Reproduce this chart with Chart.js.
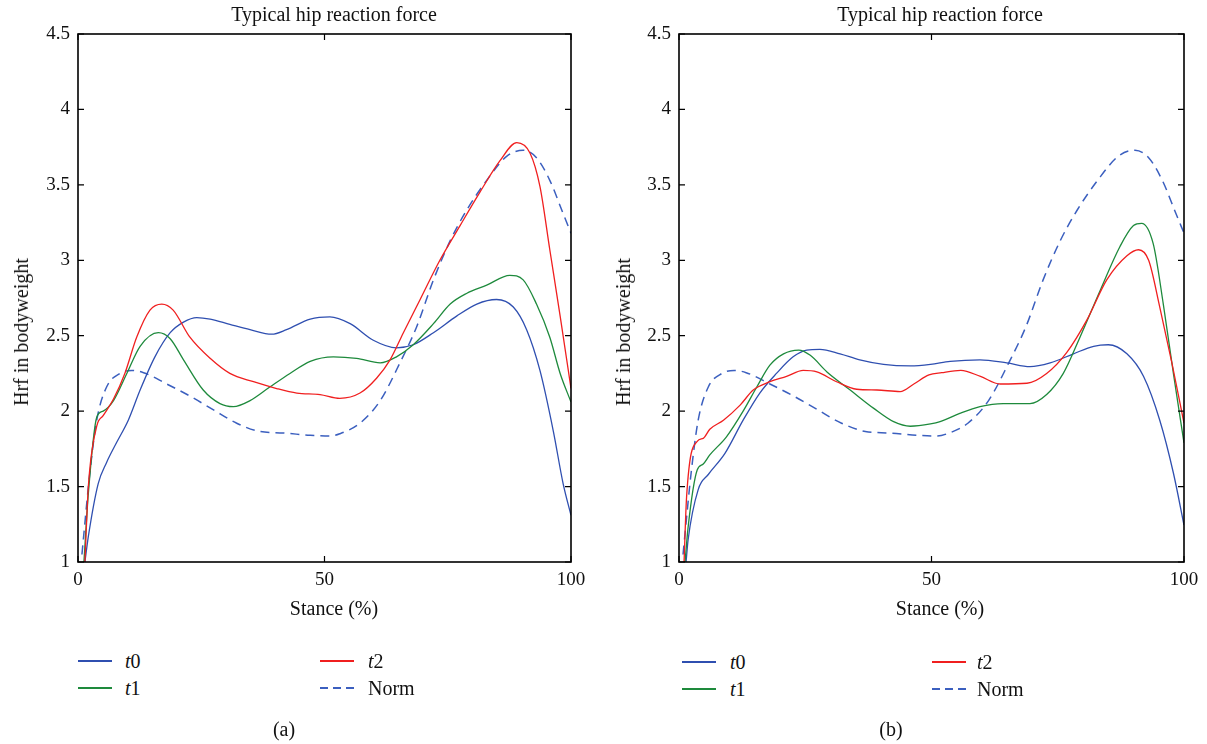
<!DOCTYPE html>
<html>
<head>
<meta charset="utf-8">
<script src="https://cdn.jsdelivr.net/npm/chart.js@4"></script>
<style>
  html, body { margin: 0; padding: 0; background: #fff; }
  #wrap { position: relative; width: 1207px; height: 744px; overflow: hidden; font-family: "Liberation Serif", "DejaVu Serif", serif; color: #111; }
  canvas { position: absolute; top: 0; }
  .txt { position: absolute; font-size: 20px; white-space: nowrap; line-height: 1; }
  .ctr { transform: translateX(-50%); }
  .ylab { transform: translate(-50%, -50%) rotate(-90deg); }
  .sw { position: absolute; width: 34px; height: 1.5px; }
  .dash { background: repeating-linear-gradient(90deg, #3b5fbf 0 8px, transparent 8px 13px); }
</style>
</head>
<body>
<div id="wrap">
  <canvas id="ca" width="600" height="640" style="left:0px;width:600px;height:640px"></canvas>
  <canvas id="cb" width="607" height="640" style="left:600px;width:607px;height:640px"></canvas>

  <div class="txt ctr" style="left:334px;top:4px">Typical hip reaction force</div>
  <div class="txt ctr" style="left:940px;top:4px">Typical hip reaction force</div>
  <div class="txt ctr" style="left:334px;top:598px">Stance (%)</div>
  <div class="txt ctr" style="left:940px;top:598px">Stance (%)</div>
  <div class="txt ylab" style="left:21px;top:332px">Hrf in bodyweight</div>
  <div class="txt ylab" style="left:623px;top:332px">Hrf in bodyweight</div>

  <!-- legend a -->
  <div class="sw" style="left:78px;top:660px;background:#2f4fb0"></div>
  <div class="txt" style="left:125px;top:651px"><i>t</i>0</div>
  <div class="sw" style="left:78px;top:687px;background:#1e8a3c"></div>
  <div class="txt" style="left:125px;top:678px"><i>t</i>1</div>
  <div class="sw" style="left:320px;top:660px;background:#f01f1f"></div>
  <div class="txt" style="left:368px;top:651px"><i>t</i>2</div>
  <div class="sw dash" style="left:320px;top:687px"></div>
  <div class="txt" style="left:368px;top:678px">Norm</div>
  <div class="txt ctr" style="left:284px;top:719px">(a)</div>

  <!-- legend b -->
  <div class="sw" style="left:682px;top:661px;background:#2f4fb0"></div>
  <div class="txt" style="left:730px;top:652px"><i>t</i>0</div>
  <div class="sw" style="left:682px;top:688px;background:#1e8a3c"></div>
  <div class="txt" style="left:730px;top:679px"><i>t</i>1</div>
  <div class="sw" style="left:932px;top:661px;background:#f01f1f"></div>
  <div class="txt" style="left:977px;top:652px"><i>t</i>2</div>
  <div class="sw dash" style="left:932px;top:688px"></div>
  <div class="txt" style="left:977px;top:679px">Norm</div>
  <div class="txt ctr" style="left:891px;top:719px">(b)</div>
</div>
<script>
// ---- data (stance %, hip reaction force in bodyweight) ----
const xTicks = [0, 50, 100];
const yTicks = [1, 1.5, 2, 2.5, 3, 3.5, 4, 4.5];
const seriesNames = ['t0', 't1', 't2', 'Norm'];

const normCurve = [[0.8,1.05],[1.2,1.19],[2.4,1.59],[3.8,1.94],[5.8,2.16],[8.5,2.25],[10.9,2.27],[13.3,2.255],[18,2.18],[22.7,2.1],[27.4,2.01],[32.2,1.92],[36.9,1.865],[41.6,1.855],[47.1,1.84],[51.1,1.835],[53.1,1.85],[57.2,1.92],[61.3,2.07],[65.3,2.32],[68.7,2.56],[72.1,2.87],[75.5,3.13],[78.8,3.33],[82.9,3.53],[87,3.69],[90.3,3.73],[93,3.68],[95.7,3.53],[98.4,3.31],[100,3.18]];

const aT0 = [[1.4,1.0],[2.1,1.17],[4.1,1.52],[5.8,1.66],[7.8,1.79],[10.2,1.94],[12.6,2.14],[15.6,2.36],[18.7,2.52],[21.4,2.59],[24.1,2.62],[26.8,2.61],[30.8,2.575],[34.9,2.54],[39.3,2.51],[42.3,2.54],[47.1,2.61],[51.1,2.625],[55.2,2.58],[59.9,2.47],[64.6,2.42],[68,2.44],[72.1,2.52],[76.8,2.63],[80.9,2.71],[84.9,2.74],[88.3,2.69],[91,2.54],[93.7,2.27],[96.4,1.87],[98.4,1.52],[100,1.31]];
const aT1 = [[1.2,1.0],[2.1,1.455],[3.8,1.96],[5.1,2.0],[7.2,2.07],[9.9,2.25],[12.6,2.43],[16.3,2.52],[18.7,2.48],[21.4,2.34],[25.4,2.14],[28.8,2.05],[31.5,2.03],[34.9,2.07],[38.9,2.16],[43,2.25],[47.1,2.33],[51.8,2.36],[56.5,2.35],[61.3,2.32],[64.6,2.36],[68,2.44],[72.1,2.58],[75.5,2.71],[78.8,2.78],[82.9,2.835],[87.6,2.9],[90.3,2.87],[93,2.71],[95.7,2.49],[97.8,2.25],[100,2.06]];
const aT2 = [[1.4,1.0],[2.1,1.5],[3.8,1.9],[5.1,1.97],[7.2,2.08],[9.5,2.25],[11.9,2.49],[14.6,2.67],[17,2.71],[19.3,2.67],[22.7,2.49],[26.8,2.35],[30.8,2.25],[35.6,2.195],[40.3,2.15],[44.4,2.12],[49.1,2.11],[53.1,2.085],[57.2,2.12],[60.6,2.22],[63.3,2.34],[66,2.52],[69.4,2.74],[73.4,3.0],[77.5,3.23],[81.5,3.45],[85.6,3.66],[89,3.78],[91.7,3.71],[93.7,3.49],[95.7,3.07],[97.8,2.63],[100,2.15]];

const bT0 = [[1.4,1.0],[1.8,1.146],[3.8,1.48],[5.8,1.58],[9.1,1.72],[12.7,1.94],[16,2.12],[19.3,2.25],[22.6,2.36],[25.3,2.405],[27.9,2.41],[31.9,2.38],[35.8,2.34],[40.5,2.31],[45.8,2.30],[49.8,2.31],[53.7,2.33],[59.6,2.34],[64.9,2.32],[69.5,2.295],[73.5,2.32],[78.1,2.38],[82.1,2.43],[85,2.44],[88.7,2.38],[92,2.23],[95.2,1.94],[97.9,1.59],[100,1.245]];
const bT1 = [[1.2,1.0],[1.8,1.23],[3.6,1.61],[4.8,1.65],[6.1,1.71],[9.4,1.83],[12.7,2.0],[15.4,2.16],[18,2.305],[20.7,2.38],[23.7,2.405],[26,2.37],[29.3,2.26],[33.9,2.14],[38.5,2.02],[42.5,1.93],[45.8,1.90],[49.8,1.915],[51.7,1.93],[55.6,1.985],[59.6,2.03],[64.2,2.05],[69.5,2.05],[72.8,2.11],[76.1,2.25],[79.4,2.49],[83.4,2.80],[87.3,3.09],[90,3.23],[91.6,3.245],[93.9,3.11],[95.9,2.71],[97.9,2.25],[100,1.79]];
const bT2 = [[1,1.0],[1.5,1.43],[3.6,1.80],[4.8,1.82],[6.1,1.88],[8.8,1.94],[12.1,2.04],[14.7,2.14],[18,2.195],[21.3,2.23],[24.6,2.27],[27.3,2.26],[31.2,2.195],[35.2,2.145],[39.2,2.14],[43.8,2.13],[46.5,2.18],[49.5,2.24],[52,2.255],[55.8,2.27],[59.7,2.23],[63.6,2.18],[68.9,2.185],[72.8,2.25],[76.8,2.39],[80.7,2.60],[84.7,2.87],[88.7,3.03],[91,3.07],[93,3.0],[95.2,2.69],[97.6,2.32],[100,1.92]];

const colors = { t0: '#2f4fb0', t1: '#1e8a3c', t2: '#f01f1f', Norm: '#3b5fbf' };
const FONT = '"Liberation Serif", "DejaVu Serif", serif';

const toPts = arr => arr.map(p => ({ x: p[0], y: p[1] }));

const frameTicks = {
  id: 'frameTicks',
  afterDraw(chart) {
    const { ctx, chartArea: a, scales } = chart;
    ctx.save();
    ctx.strokeStyle = '#000';
    ctx.lineWidth = 1.6;
    ctx.strokeRect(a.left, a.top, a.right - a.left, a.bottom - a.top);
    ctx.lineWidth = 1.2;
    const L = 6;
    ctx.beginPath();
    scales.y.ticks.forEach(t => {
      const y = scales.y.getPixelForValue(t.value);
      ctx.moveTo(a.left, y); ctx.lineTo(a.left + L, y);
      ctx.moveTo(a.right, y); ctx.lineTo(a.right - L, y);
    });
    scales.x.ticks.forEach(t => {
      const x = scales.x.getPixelForValue(t.value);
      ctx.moveTo(x, a.bottom); ctx.lineTo(x, a.bottom - L);
      ctx.moveTo(x, a.top); ctx.lineTo(x, a.top + L);
    });
    ctx.stroke();
    ctx.restore();
  }
};

function makeChart(id, sets, yWidth, rightPad) {
  const data = [sets[0], sets[1], sets[2], normCurve];
  return new Chart(document.getElementById(id), {
    type: 'line',
    data: {
      datasets: seriesNames.map((n, i) => ({
        label: n,
        data: toPts(data[i]),
        borderColor: colors[n],
        borderWidth: n === 'Norm' ? 1.5 : 1.3,
        borderDash: n === 'Norm' ? [9, 6] : [],
        pointRadius: 0,
        fill: false,
        cubicInterpolationMode: 'monotone',
        order: n === 'Norm' ? 5 : 4 - i
      }))
    },
    options: {
      responsive: false,
      animation: false,
      devicePixelRatio: 1,
      layout: { padding: { top: 34, right: rightPad, left: 0, bottom: 0 } },
      plugins: { legend: { display: false }, title: { display: false }, tooltip: { enabled: false } },
      scales: {
        x: {
          type: 'linear', min: 0, max: 100,
          afterBuildTicks: s => { s.ticks = xTicks.map(v => ({ value: v })); },
          afterFit: s => { s.height = 78; },
          grid: { display: false, drawTicks: false },
          border: { display: false },
          ticks: { padding: 7, color: '#111', font: { family: FONT, size: 19 }, maxRotation: 0, callback: v => String(v) },
          title: { display: false }
        },
        y: {
          type: 'linear', min: 1, max: 4.5,
          afterBuildTicks: s => { s.ticks = yTicks.map(v => ({ value: v })); },
          afterFit: s => { s.width = yWidth; },
          grid: { display: false, drawTicks: false },
          border: { display: false },
          ticks: { padding: 8, color: '#111', font: { family: FONT, size: 19 }, callback: v => String(v) },
          title: { display: false }
        }
      }
    },
    plugins: [frameTicks]
  });
}

makeChart('ca', [aT0, aT1, aT2], 78, 29);
makeChart('cb', [bT0, bT1, bT2], 79, 23);
</script>
</body>
</html>
